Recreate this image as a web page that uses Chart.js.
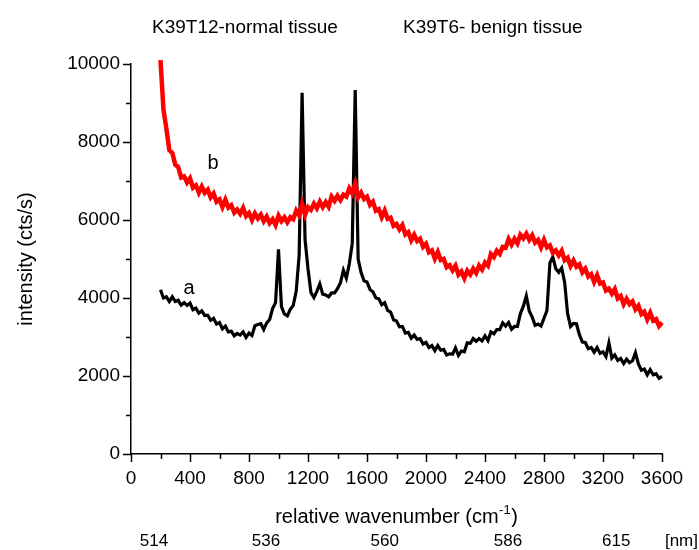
<!DOCTYPE html>
<html>
<head>
<meta charset="utf-8">
<script src="https://cdn.jsdelivr.net/npm/chart.js@4"></script>
<style>
  html, body { margin: 0; padding: 0; background: #fff; }
  canvas { display: block; }
</style>
</head>
<body>
<canvas id="c" width="699" height="550"></canvas>
<script>
// ---------- data ----------
const wavenumbers = [
  200,220,240,260,280,300,320,340,360,380,400,420,440,460,480,500,520,540,560,580,
  600,620,640,660,680,700,720,740,760,780,800,820,840,860,880,900,920,940,960,980,
  1000,1020,1040,1060,1080,1100,1120,1140,1160,1180,1200,1220,1240,1260,1280,1300,1320,1340,1360,1380,
  1400,1420,1440,1460,1480,1500,1520,1540,1560,1580,1600,1620,1640,1660,1680,1700,1720,1740,1760,1780,
  1800,1820,1840,1860,1880,1900,1920,1940,1960,1980,2000,2020,2040,2060,2080,2100,2120,2140,2160,2180,
  2200,2220,2240,2260,2280,2300,2320,2340,2360,2380,2400,2420,2440,2460,2480,2500,2520,2540,2560,2580,
  2600,2620,2640,2660,2680,2700,2720,2740,2760,2780,2800,2820,2840,2860,2880,2900,2920,2940,2960,2980,
  3000,3020,3040,3060,3080,3100,3120,3140,3160,3180,3200,3220,3240,3260,3280,3300,3320,3340,3360,3380,
  3400,3420,3440,3460,3480,3500,3520,3540,3560,3580,3600
];

// curve b (red) : K39T6 - benign tissue
const seriesB = [
  10100,8830,8340,7790,7720,7420,7360,7090,7120,6960,7070,6830,6890,6700,6860,6700,6780,6580,6680,6470,
  6530,6330,6520,6320,6380,6190,6270,6160,6310,6100,6180,6000,6170,6040,6140,5970,6090,5920,6020,5870,
  6110,5970,6070,5940,6070,6020,6240,6120,6410,6130,6330,6260,6420,6300,6470,6330,6460,6340,6600,6490,
  6620,6510,6650,6600,6810,6680,6930,6580,6700,6540,6600,6390,6470,6240,6280,6070,6240,6030,6060,5850,
  5900,5760,5870,5630,5690,5480,5620,5460,5520,5310,5390,5170,5220,5010,5180,4970,5000,4790,4840,4710,
  4830,4600,4680,4510,4700,4600,4750,4640,4830,4730,4910,4830,5130,5050,5210,5130,5310,5290,5510,5370,
  5520,5400,5620,5530,5650,5490,5610,5420,5490,5300,5490,5300,5350,5160,5220,5090,5210,4970,5030,4820,
  4960,4800,4860,4660,4750,4550,4610,4410,4580,4370,4400,4190,4240,4110,4230,3990,4050,3840,3980,3840,
  3910,3710,3800,3590,3650,3450,3620,3420,3460,3280,3370
];

// curve a (black) : K39T12 - normal tissue
const seriesA = [
  4210,4000,4030,3910,4030,3910,3940,3820,3880,3810,3870,3700,3740,3610,3670,3550,3560,3430,3480,3330,
  3370,3210,3280,3130,3150,3030,3090,3050,3130,2990,3100,3040,3290,3320,3340,3190,3360,3450,3730,3880,
  5250,3780,3590,3540,3710,3810,4170,5100,9260,5500,4750,4140,4010,4170,4360,4100,4080,4030,4130,4130,
  4240,4390,4710,4510,4870,5400,9330,5000,4650,4440,4410,4220,4160,4000,3980,3830,3880,3680,3640,3440,
  3410,3260,3270,3100,3120,2970,3050,2940,2960,2820,2860,2730,2780,2650,2780,2660,2680,2540,2570,2560,
  2720,2530,2640,2620,2850,2840,2960,2890,2960,2900,3030,2910,3130,3080,3190,3190,3360,3280,3370,3200,
  3270,3270,3600,3790,4050,3670,3510,3300,3330,3280,3480,3680,4900,5050,4750,4660,4770,4400,3600,3270,
  3350,3340,3060,2870,2860,2700,2730,2610,2730,2580,2620,2500,2850,2460,2540,2400,2450,2320,2430,2340,
  2390,2600,2310,2150,2180,2030,2160,2030,2060,1940,1990
];

const topLabels = ['K39T12-normal tissue', 'K39T6- benign tissue'];
const nmLabels = ['514', '536', '560', '586', '615'];
const nmPositions = [156, 915, 1720, 2556, 3290];
const curveLabels = [{ text: 'a', x: 393, y: 4256 }, { text: 'b', x: 556, y: 7460 }];

const FONT = "'Liberation Sans', Arial, Helvetica, sans-serif";

const decor = {
  id: 'decor',
  afterDraw(chart) {
    const ctx = chart.ctx;
    const xs = chart.scales.x, ys = chart.scales.y;
    const area = chart.chartArea;
    ctx.save();
    ctx.strokeStyle = '#000';
    ctx.lineWidth = 1.5;
    // y ticks (outward, left)
    const yt = ys.ticks.map(t => t.value);
    yt.forEach((v, i) => {
      const p = Math.round(ys.getPixelForValue(v)) + 0.5;
      ctx.beginPath(); ctx.moveTo(area.left - 8, p); ctx.lineTo(area.left, p); ctx.stroke();
      if (i < yt.length - 1) {
        const m = Math.round(ys.getPixelForValue((v + yt[i + 1]) / 2)) + 0.5;
        ctx.beginPath(); ctx.moveTo(area.left - 5, m); ctx.lineTo(area.left, m); ctx.stroke();
      }
    });
    // x ticks (outward, down)
    const xt = xs.ticks.map(t => t.value);
    xt.forEach((v, i) => {
      const p = Math.round(xs.getPixelForValue(v)) + 0.5;
      ctx.beginPath(); ctx.moveTo(p, area.bottom); ctx.lineTo(p, area.bottom + 8); ctx.stroke();
      if (i < xt.length - 1) {
        const m = Math.round(xs.getPixelForValue((v + xt[i + 1]) / 2)) + 0.5;
        ctx.beginPath(); ctx.moveTo(m, area.bottom); ctx.lineTo(m, area.bottom + 5); ctx.stroke();
      }
    });

    ctx.fillStyle = '#000';
    // top labels
    ctx.font = '19px ' + FONT;
    ctx.textBaseline = 'alphabetic';
    ctx.textAlign = 'left';
    ctx.fillText(topLabels[0], 152, 33);
    ctx.fillText(topLabels[1], 403, 33);

    // y title
    ctx.save();
    ctx.font = '20px ' + FONT;
    ctx.translate(32, (area.top + area.bottom) / 2);
    ctx.rotate(-Math.PI / 2);
    ctx.textAlign = 'center';
    ctx.textBaseline = 'alphabetic';
    ctx.fillText('intensity (cts/s)', 0, 0);
    ctx.restore();

    // x title with superscript
    ctx.font = '20px ' + FONT;
    const t1 = 'relative wavenumber (cm', sup = '-1', t2 = ')';
    const w1 = ctx.measureText(t1).width;
    const w3 = ctx.measureText(t2).width;
    ctx.font = '13px ' + FONT;
    const w2 = ctx.measureText(sup).width;
    const total = w1 + w2 + w3 + 1;
    let x0 = (area.left + area.right) / 2 - total / 2;
    const by = 523;
    ctx.textAlign = 'left';
    ctx.font = '20px ' + FONT;
    ctx.fillText(t1, x0, by);
    ctx.font = '13px ' + FONT;
    ctx.fillText(sup, x0 + w1 + 0.5, by - 9);
    ctx.font = '20px ' + FONT;
    ctx.fillText(t2, x0 + w1 + w2 + 1, by);

    // nm labels
    ctx.font = '17px ' + FONT;
    ctx.textAlign = 'center';
    nmLabels.forEach((lab, i) => {
      ctx.fillText(lab, xs.getPixelForValue(nmPositions[i]), 546);
    });
    ctx.textAlign = 'right';
    ctx.fillText('[nm]', 698, 546);

    // curve labels
    ctx.textAlign = 'center';
    ctx.font = '20px ' + FONT;
    ctx.textBaseline = 'middle';
    curveLabels.forEach(c => {
      ctx.fillText(c.text, xs.getPixelForValue(c.x), ys.getPixelForValue(c.y));
    });
    ctx.restore();
  }
};

new Chart(document.getElementById('c'), {
  type: 'line',
  data: {
    datasets: [
      {
        label: 'b',
        data: wavenumbers.map((x, i) => ({ x: x, y: seriesB[i] })),
        borderColor: '#ff0000',
        borderWidth: 4.5,
        pointRadius: 0,
        tension: 0,
        clip: false
      },
      {
        label: 'a',
        data: wavenumbers.map((x, i) => ({ x: x, y: seriesA[i] })),
        borderColor: '#000000',
        borderWidth: 3.2,
        pointRadius: 0,
        tension: 0,
        clip: false
      }
    ]
  },
  options: {
    responsive: false,
    animation: false,
    events: [],
    layout: { padding: { top: 64, right: 37, left: 0, bottom: 0 } },
    plugins: { legend: { display: false }, tooltip: { enabled: false }, title: { display: false } },
    scales: {
      x: {
        type: 'linear',
        min: 0, max: 3600,
        ticks: { stepSize: 400, color: '#000', font: { size: 19, family: FONT }, padding: 13, maxRotation: 0, autoSkip: false, callback: v => String(v) },
        grid: { display: false, drawTicks: false },
        border: { display: true, color: '#000', width: 1.5 },
        afterFit(s) { s.height = 96; }
      },
      y: {
        type: 'linear',
        min: 0, max: 10000,
        ticks: { stepSize: 2000, color: '#000', font: { size: 19, family: FONT }, padding: 11, callback: v => String(v) },
        grid: { display: false, drawTicks: false },
        border: { display: true, color: '#000', width: 1.5 },
        afterFit(s) { s.width = 131; }
      }
    }
  },
  plugins: [decor]
});
</script>
</body>
</html>
